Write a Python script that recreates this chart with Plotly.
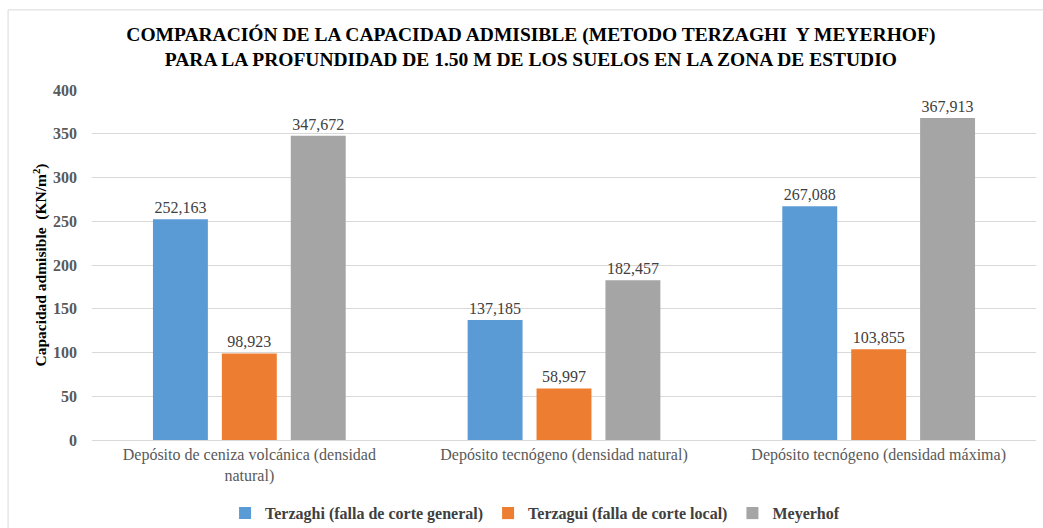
import plotly.graph_objects as go

categories = [
    "Depósito de ceniza volcánica (densidad<br>natural)",
    "Depósito tecnógeno (densidad natural)",
    "Depósito tecnógeno (densidad máxima)",
]
series_names = [
    "Terzaghi (falla de corte general)",
    "Terzagui (falla de corte local)",
    "Meyerhof",
]
terzaghi_general = [252.163, 137.185, 267.088]
terzagui_local = [98.923, 58.997, 103.855]
meyerhof = [347.672, 182.457, 367.913]
colors = ["#5B9BD5", "#ED7D31", "#A5A5A5"]
y_ticks = [0, 50, 100, 150, 200, 250, 300, 350, 400]
y_ticktext = ["<b>%d</b>" % v for v in y_ticks]
legend_names = ["<b>%s</b>" % n for n in series_names]

FONT = "Liberation Serif"

fig = go.Figure()
for name, vals, col in zip(legend_names, [terzaghi_general, terzagui_local, meyerhof], colors):
    fig.add_trace(go.Bar(
        x=categories, y=vals, name=name,
        marker=dict(color=col, line=dict(width=0)),
        texttemplate="%{y:.3f}", textposition="outside",
        textfont=dict(family=FONT, size=16, color="#404040"),
        cliponaxis=False,
    ))

fig.update_layout(
    width=1043, height=528,
    margin=dict(l=92, r=7, t=90, b=88),
    paper_bgcolor="white", plot_bgcolor="white",
    separators=",.",
    barmode="group", bargap=0.343, bargroupgap=0.203,
    font=dict(family=FONT, color="#595959"),
    title=dict(
        text="<b>COMPARACIÓN DE LA CAPACIDAD ADMISIBLE (METODO TERZAGHI  Y MEYERHOF)<br>PARA LA PROFUNDIDAD DE 1.50 M DE LOS SUELOS EN LA ZONA DE ESTUDIO</b>",
        x=0.509, xref="container", xanchor="center",
        y=0.923, yref="container", yanchor="middle",
        font=dict(family=FONT, size=19.5, color="#000000"),
    ),
    legend=dict(
        orientation="h", x=0.513, xref="container", xanchor="center",
        y=0.028, yref="container", yanchor="middle",
        font=dict(family=FONT, size=16, color="#404040"),
        itemwidth=30, traceorder="normal",
    ),
    showlegend=True,
)
fig.update_xaxes(
    showgrid=False, showline=True, linecolor="#D9D9D9", linewidth=1,
    ticks="", tickfont=dict(family=FONT, size=16, color="#595959"),
)
fig.update_yaxes(
    range=[0, 400], tickvals=y_ticks, ticktext=y_ticktext, showgrid=True, gridcolor="#D9D9D9",
    zeroline=False, showline=False, ticks="", ticklabelstandoff=14,
    tickfont=dict(family=FONT, size=16, color="#595959"),
    title=dict(text="<b>Capacidad admisible  (KN/m<sup>2</sup>)</b>",
               font=dict(family=FONT, size=15.5, color="#000000"), standoff=2),
)
fig.add_shape(type="rect", xref="paper", yref="paper",
              x0=-0.0889, x1=1.02, y0=-0.3, y1=1.229,
              line=dict(color="#D9D9D9", width=1), layer="below")

fig.write_html("out.html", config={"displayModeBar": False},
               post_script="document.body.style.margin='0';")
